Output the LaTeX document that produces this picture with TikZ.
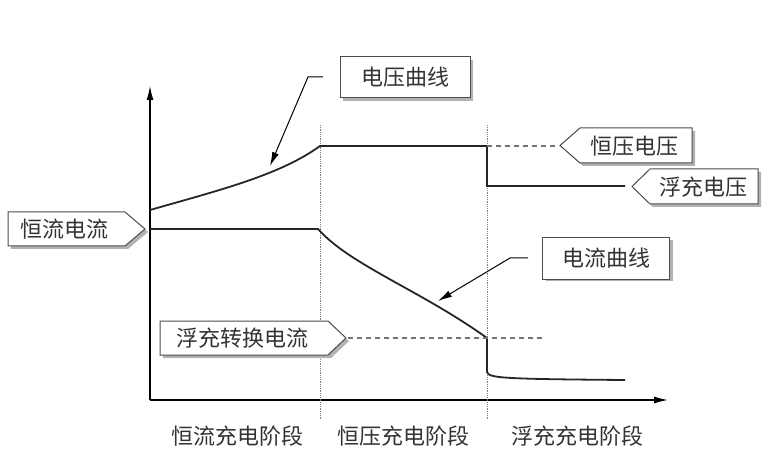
\documentclass[tikz,border=0pt]{standalone}
\usepackage{fontspec}
\setmainfont{Noto Sans CJK SC}
\usetikzlibrary{arrows.meta}
\begin{document}
\begin{tikzpicture}[x=1pt,y=-1pt,
  crv/.style={line width=1.8pt,color=black!85},
  ax/.style={line width=1.3pt,-{Latex[length=14pt,width=7pt]}},
  dsh/.style={line width=1.1pt,black!55,dash pattern=on 5pt off 4pt},
  lbl/.style={font=\fontsize{22}{24}\selectfont,text=black!80},
  bx/.style={draw=black!70,line width=1pt,fill=white},
  shd/.style={fill=black!30,draw=none}]
\useasboundingbox (0,0) rectangle (780,476);
% axes
\coordinate (o) at (150,400);
\coordinate (ytop) at (150,86);
\coordinate (xend) at (668,400);
\draw[ax] (o) -- (ytop);
\draw[ax] (o) -- (xend);
% phase separators
\draw[gray,densely dotted,line width=0.8pt] (320,125) -- (320,420);
\draw[gray,densely dotted,line width=0.8pt] (487,125) -- (487,420);
% voltage curve
\coordinate (v0) at (150,210);
\coordinate (v1) at (320,146);
\coordinate (v2) at (487,146);
\coordinate (v3) at (487,186);
\coordinate (v4) at (625,186);
\draw[crv] (v0) .. controls (220,190) and (280,175) .. (v1) -- (v2) -- (v3) -- (v4);
% current curve
\coordinate (c0) at (150,229);
\coordinate (c1) at (318,229);
\coordinate (c2) at (487,338);
\coordinate (c3) at (487,372);
\coordinate (c4) at (625,380);
\draw[crv] (c0) -- (c1) .. controls (350,265) and (420,290) .. (c2) -- (c3) .. controls (489,378) and (500,379) .. (c4);
% dashed lines
\coordinate (d1) at (555,146);
\draw[dsh] (v2) -- (d1);
\coordinate (d2a) at (348,338);
\coordinate (d2b) at (545,338);
\draw[dsh] (d2a) -- (d2b);
\newcommand{\rtag}[6]{%
  \fill[shd] (#2+3,#3+3) -- (#4+3,#3+3) -- (#6+3,#5/2+#3/2+3) -- (#4+3,#5+3) -- (#2+3,#5+3) -- cycle;
  \draw[bx] (#2,#3) -- (#4,#3) -- (#6,#5/2+#3/2) -- (#4,#5) -- (#2,#5) -- cycle;}
\newcommand{\ltag}[6]{%
  \fill[shd] (#2+3,#3+3) -- (#4+3,#3+3) -- (#4+3,#5+3) -- (#2+3,#5+3) -- (#6+3,#5/2+#3/2+3) -- cycle;
  \draw[bx] (#2,#3) -- (#4,#3) -- (#4,#5) -- (#2,#5) -- (#6,#5/2+#3/2) -- cycle;}
\rtag{a}{8}{212}{125}{246}{145}
\node[lbl] (hl) at (64,229) {恒流电流};
\rtag{b}{160}{321}{328}{355}{346}
\node[lbl] (fz) at (242,338) {浮充转换电流};
\ltag{c}{580}{128}{692}{163}{560}
\node[lbl] (hy) at (634,146) {恒压电压};
\ltag{d}{650}{169}{758}{204}{632}
\node[lbl] (fc) at (703,187) {浮充电压};
% rectangular callouts
\fill[shd] (343,60) rectangle (473,101);
\node[lbl,bx,minimum width=130pt,minimum height=41pt,inner sep=0pt] (vq) at (405,77.5) {电压曲线};
\fill[shd] (546,240) rectangle (673,281);
\node[lbl,bx,minimum width=127pt,minimum height=41pt,inner sep=0pt] (iq) at (606,258.5) {电流曲线};
\coordinate (k1) at (308,77);
\coordinate (a1) at (270,166);
\draw[line width=1pt,-{Latex[length=14pt,width=7pt]}] (323,77) -- (k1) -- (a1);
\coordinate (k2) at (510,258);
\coordinate (a2) at (438,301);
\draw[line width=1pt,-{Latex[length=14pt,width=7pt]}] (528,258) -- (k2) -- (a2);
% phase labels
\node[lbl] (p1) at (237,436) {恒流充电阶段};
\node[lbl] (p2) at (403,436) {恒压充电阶段};
\node[lbl] (p3) at (577,436) {浮充充电阶段};
\end{tikzpicture}
\end{document}
